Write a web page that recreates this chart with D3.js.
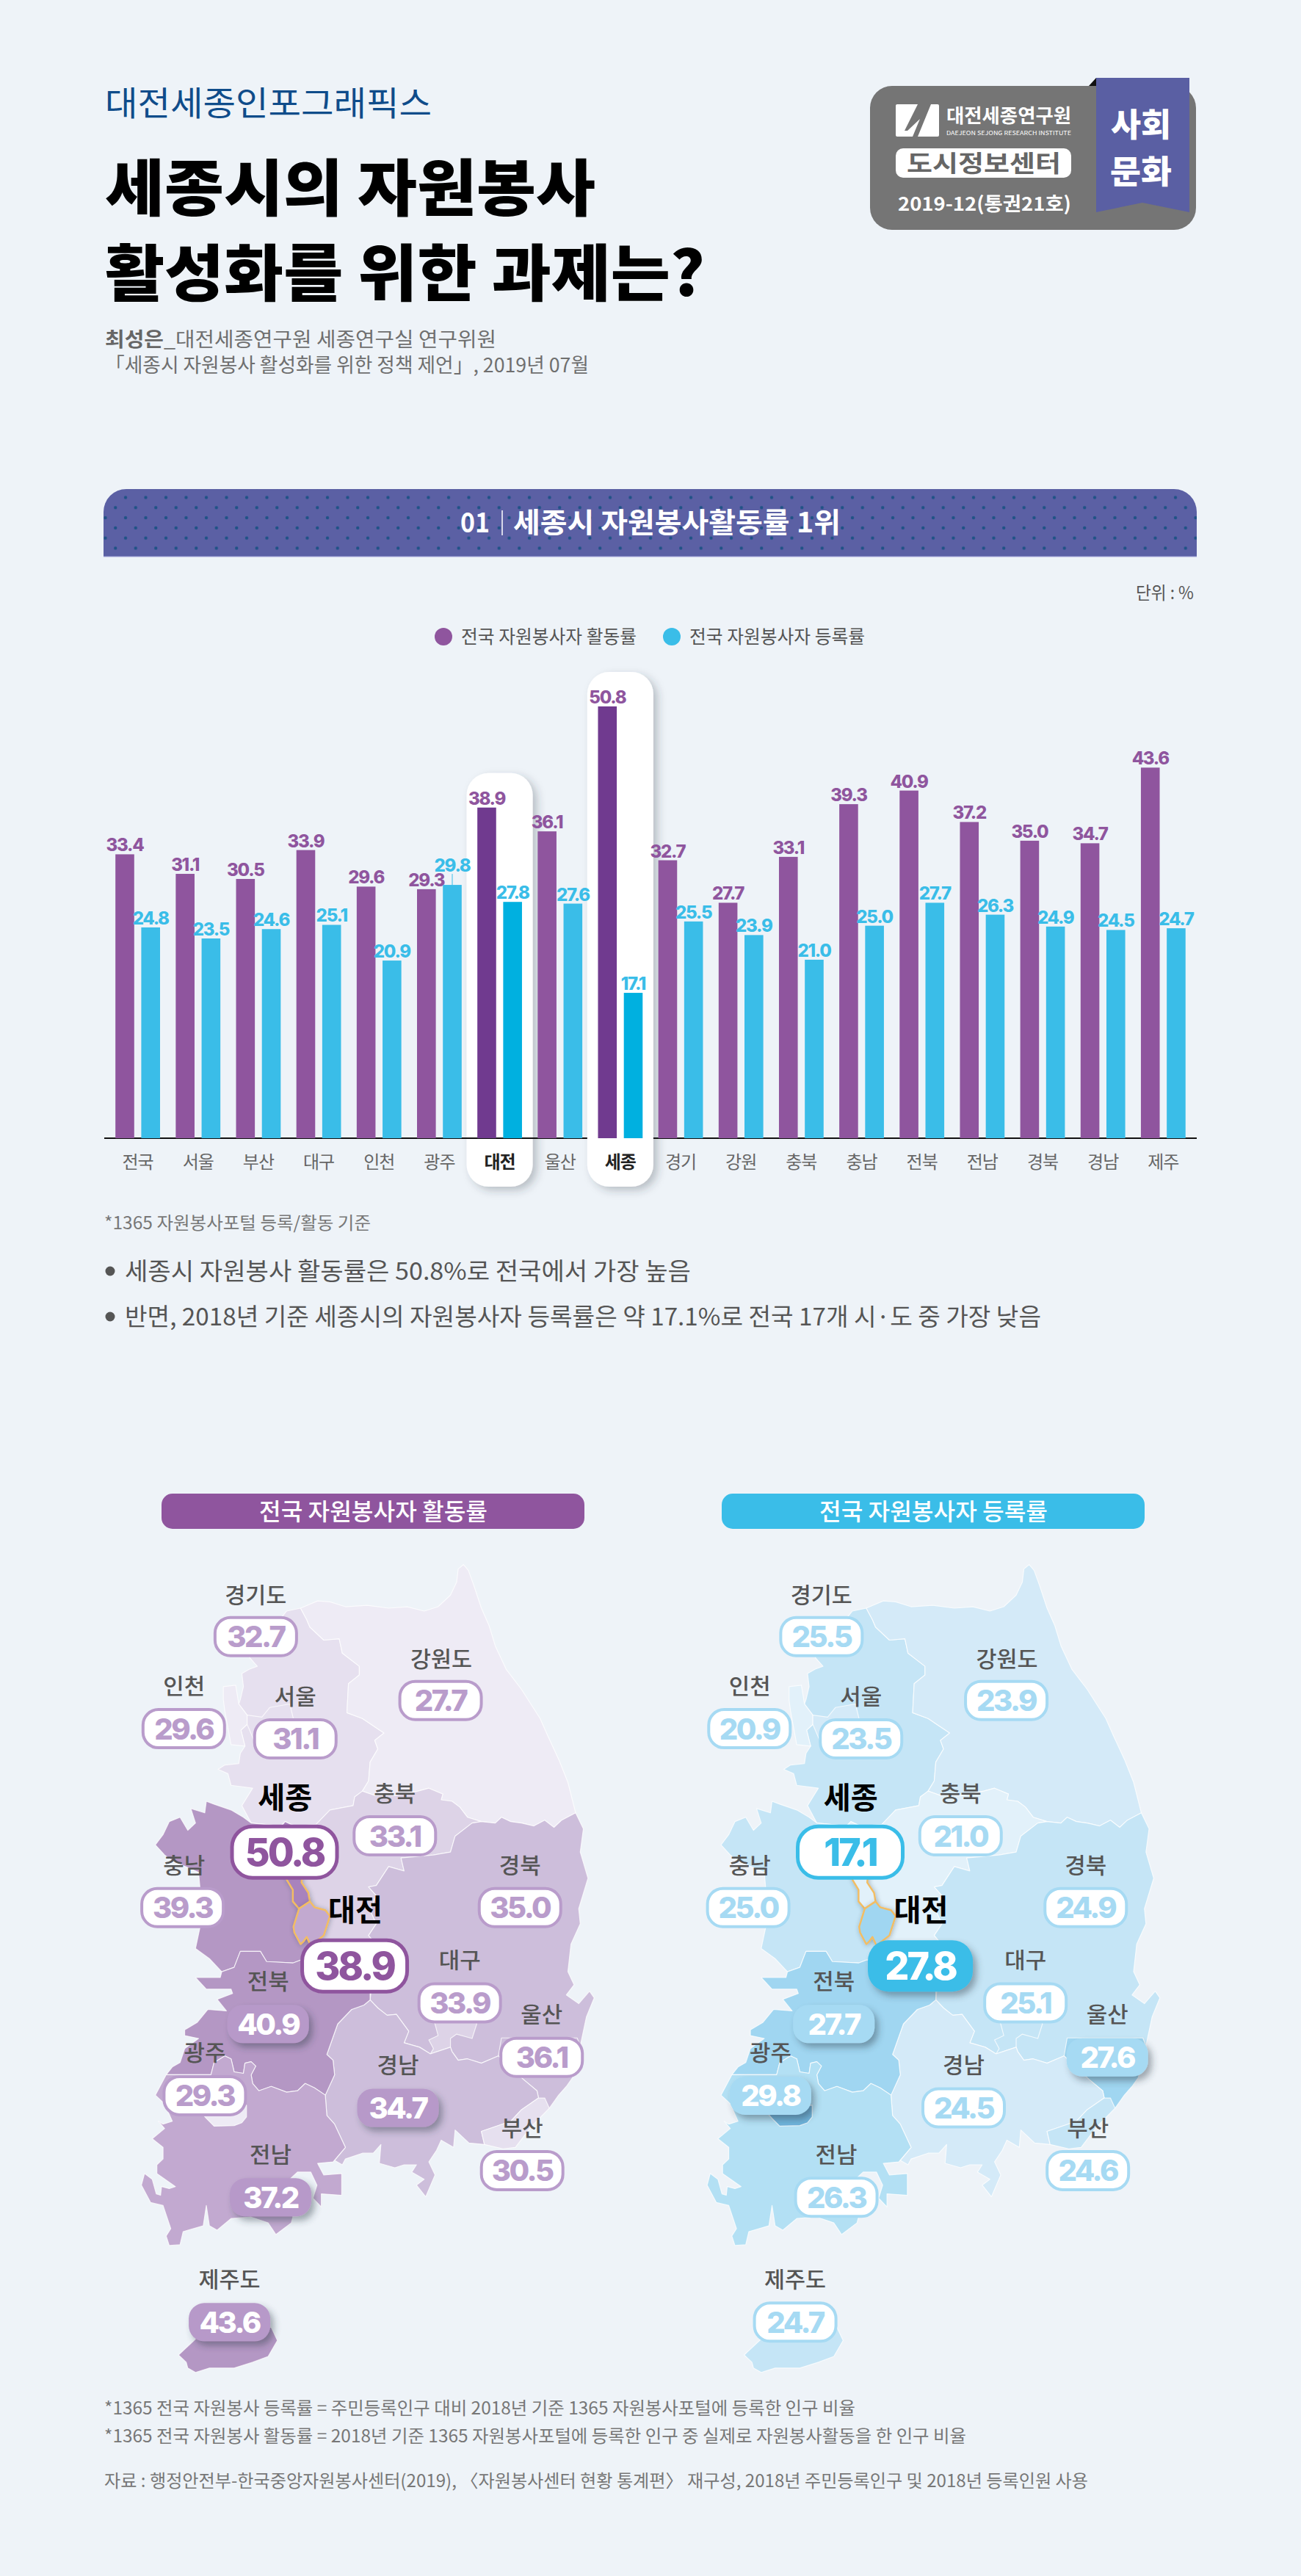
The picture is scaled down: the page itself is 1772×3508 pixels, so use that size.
<!DOCTYPE html>
<html>
<head>
<meta charset="utf-8">
<script src="https://cdn.jsdelivr.net/npm/d3@7"></script>
<style>
  html, body { margin: 0; padding: 0; background: #eef3f8; }
  svg { display: block; }
  text { font-family: "Noto Sans CJK KR", "Noto Sans", sans-serif; }
  .num { font-family: Inter, "Noto Sans", sans-serif; font-weight: 800; }
</style>
</head>
<body>
<svg id="chart" width="1772" height="3508"></svg>
<script>
// chart values
var regions = ['전국','서울','부산','대구','인천','광주','대전','울산','세종','경기','강원','충북','충남','전북','전남','경북','경남','제주'];
var activity = [33.4,31.1,30.5,33.9,29.6,29.3,38.9,36.1,50.8,32.7,27.7,33.1,39.3,40.9,37.2,35.0,34.7,43.6];
var registration = [24.8,23.5,24.6,25.1,20.9,29.8,27.8,27.6,17.1,25.5,23.9,21.0,25.0,27.7,26.3,24.9,24.5,24.7];
var highlighted = ['대전','세종'];

// map callouts which are drawn as solid pills
var filledActivity = ['전북','경남','전남','제주'];
var filledRegistration = ['대전','전북','광주','울산'];

// region outlines on a 1568 unit grid
var areaGyeonggi = [[545,430],[565,470],[575,495],[620,540],[670,535],[680,585],[735,630],[735,660],[700,690],[695,790],[745,810],[815,860],[785,885],[795,915],[770,960],[765,1025],[745,1060],[720,1080],[715,1110],[640,1125],[595,1175],[530,1180],[515,1175],[495,1165],[480,1180],[385,1170],[355,1110],[390,1050],[320,1040],[310,1000],[278,985],[300,970],[345,965],[350,930],[365,905],[352,850],[372,830],[372,798],[345,760],[350,745],[360,700],[355,655],[380,640],[405,630],[380,600],[500,440]];
var areaGangwon = [[545,430],[600,405],[640,408],[690,425],[760,420],[830,430],[890,425],[945,440],[990,425],[1030,385],[1050,340],[1055,295],[1072,280],[1088,300],[1105,350],[1130,430],[1155,490],[1175,560],[1210,640],[1260,710],[1320,810],[1345,870],[1380,950],[1410,1030],[1435,1135],[1390,1160],[1365,1185],[1335,1160],[1300,1180],[1260,1170],[1225,1165],[1195,1150],[1175,1170],[1130,1165],[1085,1150],[1060,1115],[1035,1095],[1000,1090],[1005,1070],[960,1050],[925,1060],[850,1075],[785,1075],[745,1060],[765,1025],[770,960],[795,915],[785,885],[815,860],[745,810],[695,790],[700,690],[735,660],[735,630],[680,585],[670,535],[620,540],[575,495],[565,470]];
var areaIncheon = [[295,700],[335,695],[345,760],[372,798],[372,830],[352,850],[365,905],[320,900],[300,785],[295,745]];
var areaSeoul = [[372,798],[420,805],[445,772],[510,760],[522,812],[500,900],[400,900],[372,830]];
var areaChungbuk = [[595,1175],[640,1125],[715,1110],[720,1080],[745,1060],[785,1075],[850,1075],[925,1060],[960,1050],[1005,1070],[1000,1090],[1035,1095],[1060,1115],[1085,1150],[1130,1165],[1100,1170],[1045,1215],[1030,1270],[975,1280],[870,1290],[880,1335],[830,1320],[790,1385],[765,1390],[790,1420],[770,1470],[790,1517],[765,1557],[790,1590],[770,1779],[770,1760],[600,1700],[578,1592],[620,1557],[640,1490],[625,1470],[590,1460],[575,1440],[570,1410],[548,1375],[560,1280],[530,1180]];
var areaChungnam = [[240,1095],[265,1105],[320,1125],[360,1150],[385,1170],[480,1180],[500,1365],[520,1400],[520,1440],[540,1465],[522,1527],[525,1547],[545,1587],[555,1577],[565,1562],[578,1592],[600,1640],[545,1642],[520,1652],[435,1647],[415,1612],[350,1612],[330,1667],[290,1682],[250,1637],[205,1602],[222,1517],[220,1400],[215,1340],[130,1300],[105,1280],[75,1245],[100,1210],[120,1165],[155,1150],[180,1195],[205,1170],[190,1120],[235,1135]];
var areaSejongTip = [[480,1185],[495,1165],[515,1175],[530,1185]];
var areaSejong = [[495,1300],[555,1300],[548,1375],[570,1410],[575,1440],[540,1465],[520,1440],[520,1400],[500,1365]];
var areaDaejeon = [[540,1465],[575,1440],[590,1460],[625,1470],[640,1490],[620,1557],[578,1592],[565,1562],[555,1577],[545,1587],[525,1547],[522,1527]];
var areaGyeongbuk = [[1130,1165],[1175,1170],[1195,1150],[1225,1165],[1260,1170],[1300,1180],[1335,1160],[1365,1185],[1390,1160],[1435,1135],[1460,1190],[1450,1270],[1475,1360],[1445,1465],[1450,1517],[1420,1587],[1410,1682],[1430,1727],[1405,1762],[1445,1792],[1480,1749],[1495,1772],[1470,1837],[1450,1937],[1185,1972],[1130,1997],[1085,1982],[1055,1987],[1035,1957],[1030,1942],[965,1965],[930,1942],[880,1927],[895,1887],[855,1829],[825,1832],[795,1807],[770,1779],[790,1590],[765,1557],[790,1517],[770,1470],[790,1420],[765,1390],[790,1385],[830,1320],[880,1335],[870,1290],[975,1280],[1030,1270],[1045,1215],[1100,1170]];
var areaUlsan = [[1185,1972],[1195,1910],[1440,1910],[1450,1937],[1425,2047],[1405,2077],[1380,2107],[1350,2152],[1315,2117],[1310,2092],[1265,2052]];
var areaDaegu = [[960,1820],[1100,1820],[1115,1862],[1100,1912],[1050,1897],[1030,1912],[1030,1942],[965,1965],[975,1947],[960,1917],[990,1902],[980,1862]];
var areaGyeongnam = [[625,2107],[655,2037],[650,1987],[630,1967],[665,1862],[710,1812],[750,1797],[770,1779],[795,1807],[825,1832],[855,1829],[895,1887],[880,1927],[930,1942],[965,1965],[1030,1942],[1035,1957],[1055,1987],[1085,1982],[1130,1997],[1185,1972],[1265,2052],[1310,2092],[1315,2117],[1260,2157],[1225,2197],[1130,2232],[1140,2277],[1090,2272],[1045,2227],[1040,2287],[1000,2262],[985,2297],[960,2337],[980,2382],[950,2457],[920,2417],[945,2397],[905,2372],[920,2347],[880,2347],[850,2357],[800,2342],[805,2277],[780,2307],[745,2307],[690,2327],[680,2347],[655,2332],[690,2287],[655,2207],[630,2177]];
var areaBusan = [[1130,2232],[1225,2197],[1260,2157],[1315,2117],[1335,2117],[1350,2152],[1290,2217],[1240,2287],[1200,2292],[1140,2277]];
var areaJeonbuk = [[290,1682],[330,1667],[350,1612],[415,1612],[435,1647],[520,1652],[545,1642],[600,1640],[770,1750],[770,1779],[750,1797],[710,1812],[665,1862],[630,1967],[650,1987],[655,2037],[625,2107],[590,2082],[560,2067],[535,2092],[500,2097],[450,2077],[410,2092],[390,2067],[385,2037],[400,2007],[385,1992],[365,1997],[360,2032],[330,2027],[320,1982],[300,1972],[265,1995],[255,2037],[110,2037],[130,2010],[155,1995],[170,1947],[215,1912],[170,1902],[170,1882],[210,1857],[245,1812],[305,1817],[275,1777],[325,1757],[320,1742],[240,1742],[205,1702],[285,1702]];
var areaJeonnam = [[625,2107],[590,2082],[560,2067],[535,2092],[500,2097],[450,2077],[410,2092],[390,2067],[385,2037],[400,2007],[385,1992],[365,1997],[360,2032],[330,2027],[320,1982],[300,1972],[265,1995],[255,2037],[110,2037],[75,2107],[105,2137],[130,2197],[100,2207],[85,2197],[105,2222],[65,2257],[100,2287],[100,2327],[80,2347],[80,2377],[140,2422],[120,2429],[95,2422],[92,2452],[78,2447],[65,2397],[40,2377],[30,2417],[60,2477],[100,2487],[125,2567],[110,2592],[120,2625],[155,2622],[165,2577],[230,2557],[240,2487],[250,2557],[275,2572],[320,2532],[385,2527],[440,2547],[465,2587],[515,2547],[520,2527],[510,2397],[535,2372],[578,2372],[598,2417],[585,2462],[612,2492],[612,2447],[678,2452],[678,2377],[620,2382],[600,2342],[650,2337],[690,2287],[655,2207],[630,2177]];
var areaGwangju = [[215,2157],[370,2142],[370,2182],[355,2202],[330,2212],[265,2214],[240,2187]];
var areaJeju = [[200,2907],[205,2947],[150,3002],[175,3027],[180,3047],[205,3062],[250,3047],[330,3047],[390,3027],[440,3007],[470,2952],[450,2907]];

var mapAreas = [
  ['경기', areaGyeonggi], ['강원', areaGangwon], ['인천', areaIncheon], ['서울', areaSeoul],
  ['충북', areaChungbuk], ['충남', areaChungnam], ['세종', areaSejongTip], ['경북', areaGyeongbuk], ['울산', areaUlsan],
  ['대구', areaDaegu], ['경남', areaGyeongnam], ['부산', areaBusan], ['전북', areaJeonbuk],
  ['전남', areaJeonnam], ['광주', areaGwangju], ['제주', areaJeju]
];
var orangeAreas = [['세종', areaSejong], ['대전', areaDaejeon]];

// name, caption, caption x/y and pill x/y on the same grid
var mapCallouts = [
  ['경기','경기도',400,385,400,528], ['강원','강원도',1000,605,998,748], ['인천','인천',168,697,167,845],
  ['서울','서울',528,733,528,880], ['충북','충북',850,1067,850,1214], ['충남','충남',168,1315,163,1461],
  ['경북','경북',1255,1315,1255,1461], ['대구','대구',1060,1642,1060,1789], ['전북','전북',440,1714,440,1862],
  ['울산','울산',1325,1829,1325,1977], ['광주','광주',235,1960,235,2109], ['경남','경남',860,2002,860,2151],
  ['부산','부산',1262,2220,1262,2367], ['전남','전남',448,2312,448,2459], ['제주','제주도',315,2742,315,2889],
  ['세종','세종',495,1082,493,1270], ['대전','대전',722,1470,720,1662]
];

var svg = d3.select('#chart');
svg.append('rect').attr('width', 1772).attr('height', 3508).attr('fill', '#eef3f8');

var defs = svg.append('defs');
var dots = defs.append('pattern').attr('id', 'dots').attr('patternUnits', 'userSpaceOnUse')
  .attr('x', 136.5).attr('y', 670.6).attr('width', 27.5).attr('height', 27.6);
dots.append('rect').attr('width', 27.5).attr('height', 27.6).attr('fill', '#5b60a4');
dots.append('circle').attr('cx', 7).attr('cy', 7).attr('r', 2.2).attr('fill', '#1f5286');
dots.append('circle').attr('cx', 20.75).attr('cy', 20.8).attr('r', 2.2).attr('fill', '#1f5286');

function shadow(id, dx, dy, blur, opacity) {
  var f = defs.append('filter').attr('id', id).attr('x', '-30%').attr('y', '-30%').attr('width', '170%').attr('height', '170%');
  f.append('feDropShadow').attr('dx', dx).attr('dy', dy).attr('stdDeviation', blur)
    .attr('flood-color', '#2f3b46').attr('flood-opacity', opacity);
}
shadow('cardShadow', 6, 5, 6, 0.28);
shadow('pillShadow', 5, 6, 5, 0.42);
shadow('areaShadow', 1, 1, 3, 0.35);

// plain text helper, w squeezes the string to the width measured on the picture
function put(parent, str, x, y, o) {
  var t = parent.append('text').attr('x', x).attr('y', y).text(str)
    .attr('font-size', o.size).attr('font-weight', o.weight || 400).attr('fill', o.fill || '#555')
    .attr('text-anchor', o.anchor || 'start');
  if (o.w) t.attr('textLength', o.w).attr('lengthAdjust', 'spacingAndGlyphs');
  return t;
}

// ---- title block
var head = svg.append('g');
put(head, '대전세종인포그래픽스', 143, 157, {size: 46, fill: '#0f4c8a', w: 445});
put(head, '세종시의 자원봉사', 143, 287, {size: 84, weight: 900, fill: '#000', w: 668});
put(head, '활성화를 위한 과제는?', 143, 403, {size: 84, weight: 900, fill: '#000', w: 817});
put(head, '최성은', 143, 472, {size: 27, weight: 700, fill: '#666', w: 80});
put(head, '_대전세종연구원 세종연구실 연구위원', 223, 472, {size: 27, fill: '#6f6f6f', w: 453});
put(head, '「세종시 자원봉사 활성화를 위한 정책 제언」, 2019년 07월', 143, 507, {size: 27, fill: '#6f6f6f', w: 659});

// badge
var badge = svg.append('g');
badge.append('rect').attr('x', 1185).attr('y', 117).attr('width', 444).attr('height', 196).attr('rx', 30).attr('fill', '#757575');
badge.append('path').attr('d', 'M1483 117L1493 106V117Z').attr('fill', '#111');
badge.append('path').attr('d', 'M1493 106H1620V289L1556 276L1493 289Z').attr('fill', '#5a5fa3');
badge.append('rect').attr('x', 1220).attr('y', 142).attr('width', 59).attr('height', 44).attr('rx', 2).attr('fill', '#fff');
badge.append('path').attr('d', 'M1250 142H1268L1250 186H1243L1253 162L1236 178H1232Z').attr('fill', '#757575');
put(badge, '대전세종연구원', 1289, 167, {size: 26, weight: 700, fill: '#fff', w: 170});
put(badge, 'DAEJEON SEJONG RESEARCH INSTITUTE', 1289, 184, {size: 8, fill: '#fff', w: 170});
badge.append('rect').attr('x', 1220).attr('y', 202).attr('width', 239).attr('height', 40).attr('rx', 10).attr('fill', '#fff');
put(badge, '도시정보센터', 1340, 234, {size: 32, weight: 700, fill: '#666', anchor: 'middle', w: 210});
put(badge, '2019-12(통권21호)', 1341, 287, {size: 26, weight: 700, fill: '#fff', anchor: 'middle', w: 236});
put(badge, '사회', 1554, 186, {size: 44, weight: 900, fill: '#fff', anchor: 'middle', w: 82});
put(badge, '문화', 1554, 250, {size: 44, weight: 900, fill: '#fff', anchor: 'middle', w: 84});

// ---- section header
var band = svg.append('g');
band.append('path').attr('d', 'M141 758V697A31 31 0 0 1 172 666H1599A31 31 0 0 1 1630 697V758Z').attr('fill', 'url(#dots)');
band.append('line').attr('x1', 141).attr('x2', 1630).attr('y1', 758).attr('y2', 758).attr('stroke', '#a4a6da').attr('stroke-width', 1);
put(band, '01', 627, 725, {size: 38, weight: 700, fill: '#fff', w: 40});
band.append('line').attr('x1', 684).attr('x2', 684).attr('y1', 695).attr('y2', 729).attr('stroke', '#fff').attr('stroke-width', 1.5);
put(band, '세종시 자원봉사활동률 1위', 699, 725, {size: 38, weight: 700, fill: '#fff', w: 446});

put(svg, '단위 : %', 1626, 816, {size: 24, fill: '#555', anchor: 'end', w: 79});

// legend
var legend = svg.append('g');
legend.append('circle').attr('cx', 604).attr('cy', 867).attr('r', 12).attr('fill', '#8f559e');
put(legend, '전국 자원봉사자 활동률', 628, 876, {size: 25, fill: '#555', w: 239});
legend.append('circle').attr('cx', 915).attr('cy', 867).attr('r', 12).attr('fill', '#3abde8');
put(legend, '전국 자원봉사자 등록률', 939, 876, {size: 25, fill: '#555', w: 239});

// ---- grouped bars
var x0 = d3.scaleBand().domain(regions).range([146.5, 1625.4]);
var x1 = d3.scaleBand().domain(['activity', 'registration']).range([10.7, 71.5]).paddingInner(0.273);
var y = d3.scaleLinear().domain([0, 50.8]).range([1550, 962]);

var rows = regions.map(function(r, i) {
  return {region: r, activity: activity[i], registration: registration[i]};
});

function card(g, name, topValue) {
  g.append('rect').datum(name)
    .attr('x', x0(name) + x0.bandwidth() / 2 - 45)
    .attr('y', y(topValue) - 47)
    .attr('width', 90)
    .attr('height', 1616 - y(topValue) + 47)
    .attr('rx', 30)
    .attr('fill', '#fff')
    .attr('filter', 'url(#cardShadow)');
}
var plot = svg.append('g');
card(plot, '대전', activity[regions.indexOf('대전')]);
plot.append('line').attr('x1', 142).attr('x2', 1630).attr('y1', 1550).attr('y2', 1550).attr('stroke', '#111').attr('stroke-width', 2);
card(plot, '세종', activity[regions.indexOf('세종')]);

var groups = plot.selectAll('g.group').data(rows).enter().append('g')
  .attr('class', 'group')
  .attr('transform', function(d) { return 'translate(' + x0(d.region) + ',0)'; });

['activity', 'registration'].forEach(function(key) {
  var isAct = key === 'activity';
  groups.append('rect')
    .attr('x', x1(key))
    .attr('y', function(d) { return y(d[key]); })
    .attr('width', x1.bandwidth())
    .attr('height', function(d) { return y(0) - y(d[key]); })
    .attr('fill', function(d) {
      var hot = highlighted.indexOf(d.region) >= 0;
      if (isAct) return hot ? '#703a8f' : '#8f559e';
      return hot ? '#00b0e0' : '#3abde8';
    });
  groups.append('text')
    .attr('class', 'num')
    .attr('x', x1(key) + x1.bandwidth() / 2)
    .attr('y', function(d) {
      // 광주 registration sits higher on a small leader
      return y(d[key]) - (d.region === '광주' && !isAct ? 18 : 4);
    })
    .attr('text-anchor', 'middle')
    .attr('font-size', 24)
    .attr('letter-spacing', -1.3)
    .attr('fill', isAct ? '#8f559e' : '#3abde8')
    .text(function(d) { return d[key].toFixed(1); });
});

var leaderRow = rows[regions.indexOf('광주')];
plot.append('line')
  .attr('x1', x0('광주') + x1('registration') + x1.bandwidth() / 2)
  .attr('x2', x0('광주') + x1('registration') + x1.bandwidth() / 2)
  .attr('y1', y(leaderRow.registration) - 15)
  .attr('y2', y(leaderRow.registration))
  .attr('stroke', '#3abde8').attr('stroke-width', 1);

var xAxis = d3.axisBottom(x0).tickSize(0);
var axisG = plot.append('g').attr('transform', 'translate(0,1550)').call(xAxis);
axisG.select('.domain').remove();
axisG.selectAll('text')
  .attr('y', 41).attr('dy', 0)
  .attr('font-size', 24)
  .attr('letter-spacing', -1)
  .style('font-family', '"Noto Sans CJK KR"')
  .attr('fill', function(d) { return highlighted.indexOf(d) >= 0 ? '#222' : '#666'; })
  .attr('font-weight', function(d) { return highlighted.indexOf(d) >= 0 ? 700 : 400; });

// ---- notes
put(svg, '*1365 자원봉사포털 등록/활동 기준', 142, 1674, {size: 24, fill: '#777', w: 363});
svg.append('circle').attr('cx', 150).attr('cy', 1731).attr('r', 6.5).attr('fill', '#555');
put(svg, '세종시 자원봉사 활동률은 50.8%로 전국에서 가장 높음', 170, 1743, {size: 33, fill: '#555', w: 771});
svg.append('circle').attr('cx', 150).attr('cy', 1793).attr('r', 6.5).attr('fill', '#555');
put(svg, '반면, 2018년 기준 세종시의 자원봉사자 등록률은 약 17.1%로 전국 17개 시·도 중 가장 낮음', 170, 1805, {size: 33, fill: '#555', w: 1248});

// ---- maps
var gridX = d3.scaleLinear().domain([0, 1568]).range([180, 840]);
var gridY = d3.scaleLinear().domain([0, 1568]).range([2020, 2640]);
var areaLine = d3.line().x(function(p) { return gridX(p[0]); }).y(function(p) { return gridY(p[1]); })
  .curve(d3.curveLinearClosed);

var activityShade = d3.scaleThreshold()
  .domain([30, 33, 34, 37, 39, 45])
  .range(['#eeebf5', '#e6e0ef', '#ddd3e7', '#cdbedb', '#c2a9d0', '#b497c4', '#a883bd']);
var registrationShade = d3.scaleThreshold()
  .domain([22, 24.55, 26, 27, 29])
  .range(['#e2f1fa', '#d4eaf8', '#c5e5f6', '#b3e0f4', '#a0d6f1', '#6fb3da']);

function drawMap(dx, values, shade, filled, edge, strong, pillFill) {
  var g = svg.append('g').attr('transform', 'translate(' + dx + ',0)');
  function valueOf(name) { return values[regions.indexOf(name)]; }

  g.selectAll('path.area').data(mapAreas).enter().append('path')
    .attr('class', 'area')
    .attr('d', function(d) { return areaLine(d[1]); })
    .attr('fill', function(d) { return shade(valueOf(d[0])); })
    .attr('stroke', '#fff').attr('stroke-opacity', 0.75).attr('stroke-width', 1.2).attr('stroke-linejoin', 'round');
  g.selectAll('path.hot').data(orangeAreas).enter().append('path')
    .attr('class', 'hot')
    .attr('d', function(d) { return areaLine(d[1]); })
    .attr('fill', function(d) { return shade(valueOf(d[0])); })
    .attr('stroke', '#f3bd62').attr('stroke-width', 2.4).attr('stroke-linejoin', 'round')
    .attr('filter', 'url(#areaShadow)');

  mapCallouts.forEach(function(c) {
    var big = c[0] === '세종' || c[0] === '대전';
    var isFilled = filled.indexOf(c[0]) >= 0;
    var w = big ? 143 : 111, h = big ? 70 : 52;
    var cx = gridX(c[4]), cy = gridY(c[5]);

    put(g, c[1], gridX(c[2]), gridY(c[3]) + (big ? 15 : 11), {
      size: big ? 41 : 30, weight: big ? 700 : 500, fill: big ? '#000' : '#555', anchor: 'middle',
      w: big ? 74 : (c[1].length === 3 ? 84 : 57)
    });
    var color = big ? strong : edge;
    g.append('rect')
      .attr('x', cx - w / 2).attr('y', cy - h / 2).attr('width', w).attr('height', h)
      .attr('rx', big ? 28 : 21)
      .attr('fill', isFilled ? (big ? strong : pillFill) : '#fff')
      .attr('stroke', isFilled ? 'none' : color).attr('stroke-width', big ? 5 : 4)
      .attr('filter', isFilled ? 'url(#pillShadow)' : null);
    g.append('text').attr('class', 'num')
      .attr('x', cx).attr('y', cy + (big ? 19 : 14.5))
      .attr('text-anchor', 'middle')
      .attr('font-size', big ? 52 : 40)
      .attr('letter-spacing', big ? -3 : -2.5)
      .attr('fill', isFilled ? '#fff' : color)
      .text(valueOf(c[0]).toFixed(1));
  });
}

svg.append('rect').attr('x', 220).attr('y', 2034).attr('width', 576).attr('height', 48).attr('rx', 15).attr('fill', '#8f559e');
put(svg, '전국 자원봉사자 활동률', 353, 2070, {size: 32, weight: 500, fill: '#fff', w: 311});
svg.append('rect').attr('x', 983).attr('y', 2034).attr('width', 576).attr('height', 48).attr('rx', 15).attr('fill', '#3abde8');
put(svg, '전국 자원봉사자 등록률', 1116, 2070, {size: 32, weight: 500, fill: '#fff', w: 311});

drawMap(0, activity, activityShade, filledActivity, '#b99ccb', '#8f559e', '#b799c9');
drawMap(770.5, registration, registrationShade, filledRegistration, '#a6daf3', '#3abde8', '#a6daf3');

// ---- footnotes
put(svg, '*1365 전국 자원봉사 등록률 = 주민등록인구 대비 2018년 기준 1365 자원봉사포털에 등록한 인구 비율', 142, 3288, {size: 24, fill: '#777', w: 1023});
put(svg, '*1365 전국 자원봉사 활동률 = 2018년 기준 1365 자원봉사포털에 등록한 인구 중 실제로 자원봉사활동을 한 인구 비율', 142, 3326, {size: 24, fill: '#777', w: 1174});
put(svg, '자료 : 행정안전부-한국중앙자원봉사센터(2019), 〈자원봉사센터 현황 통계편〉 재구성, 2018년 주민등록인구 및 2018년 등록인원 사용', 142, 3387, {size: 24, fill: '#777', w: 1340});
</script>
</body>
</html>
